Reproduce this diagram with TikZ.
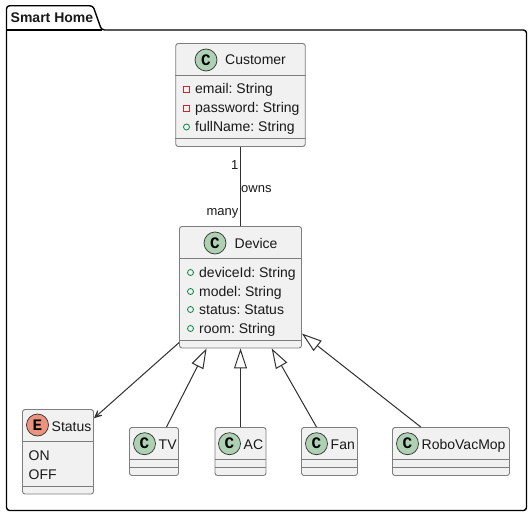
\documentclass[tikz,border=0pt]{standalone}
\usepackage{fontspec}
\setmainfont{Liberation Sans}
\newfontfamily\spotfont{Liberation Mono}
\usetikzlibrary{arrows.meta}
\definecolor{boxfill}{HTML}{F1F1F1}
\definecolor{boxline}{HTML}{7E7E7E}
\definecolor{edgeline}{HTML}{303030}
\definecolor{privred}{HTML}{C82930}
\definecolor{pubgreen}{HTML}{038048}
\definecolor{classspot}{HTML}{ADD1B2}
\definecolor{enumspot}{HTML}{EB937F}
\tikzset{
  classbox/.style = {draw = boxline, fill = boxfill, line width = .9pt, rounded corners = 2.5pt, inner sep = 0pt},
  rowline/.style = {draw = boxline, line width = .9pt},
  spot/.style = {draw = edgeline, fill = #1, circle, line width = .7pt, minimum width = 22pt, inner sep = 0pt, font = \spotfont\bfseries\fontsize{16}{16}\selectfont},
  title/.style = {anchor = base west, inner sep = 0pt, font = \fontsize{14}{16}\selectfont, text = black!90},
  edgetext/.style = {inner sep = 0pt, font = \fontsize{13}{15}\selectfont, text = black!90},
  privmark/.style = {draw = privred, rectangle, line width = .8pt, minimum width = 6pt, minimum height = 6pt, inner sep = 0pt},
  pubmark/.style = {draw = pubgreen, circle, line width = .8pt, minimum width = 6pt, inner sep = 0pt},
  assoc/.style = {draw = edgeline, line width = 1pt},
  inherit/.style = {assoc, -{Triangle[open, length = 20pt, width = 13pt, fill = white]}},
  depends/.style = {assoc, -{Stealth[length = 14pt, width = 13pt, inset = 10pt]}},
}
\begin{document}
\frenchspacing
\begin{tikzpicture}[x=1pt,y=-1pt]
\useasboundingbox (0,0) rectangle (532,516);
% package
\draw[line width = 1.4pt, rounded corners = 3pt, fill = white] (6.5,30) -- (6.5,5.8) -- (93,5.8) -- (101.5,30) -- (526.5,30) -- (526.5,510.5) -- (6.5,510.5) -- cycle;
\draw[line width = 1.4pt] (6.5,30) -- (101.5,30);
\node[title, font = \bfseries\fontsize{14}{16}\selectfont] (pkgname) at (10.5,23) {Smart Home};
% class boxes
\node[classbox, minimum width = 129.5pt, minimum height = 103pt] (customer) at (240.5,95) {};
\node[classbox, minimum width = 122pt, minimum height = 121.5pt] (device) at (240.5,287.25) {};
\node[classbox, minimum width = 71pt, minimum height = 84.5pt] (status) at (58,451.75) {};
\node[classbox, minimum width = 49pt, minimum height = 48pt] (tv) at (154,451.5) {};
\node[classbox, minimum width = 51pt, minimum height = 48pt] (ac) at (240.5,451.5) {};
\node[classbox, minimum width = 56pt, minimum height = 48pt] (fan) at (329.5,451.5) {};
\node[classbox, minimum width = 117pt, minimum height = 48pt] (robo) at (451,451.5) {};
% rows
\foreach \m/\yi in {customer/75,customer/138,device/258.5,device/340.5,status/441.5,status/486,tv/459.5,tv/467.5,ac/459.5,ac/467.5,fan/459.5,fan/467.5,robo/459.5,robo/467.5}{
  \draw[rowline] (\m.west |- 0,\yi) -- (\m.east |- 0,\yi);
}
% heads
\node[spot=classspot] (customerspot) at (206,60) {C};
\node[title] (customername) at (225,65) {Customer};
\node[spot=classspot] (devicespot) at (215,243) {C};
\node[title] (devicename) at (234.5,248) {Device};
\node[spot=enumspot] (statusspot) at (37.5,425) {E};
\node[title] (statusname) at (51.5,431) {Status};
\node[spot=classspot] (tvspot) at (144.5,443.7) {C};
\node[title] (tvname) at (158.5,449) {TV};
\node[spot=classspot] (acspot) at (229.5,443.7) {C};
\node[title] (acname) at (243.5,449) {AC};
\node[spot=classspot] (fanspot) at (316.5,443.7) {C};
\node[title] (fanname) at (330.5,449) {Fan};
\node[spot=classspot] (robospot) at (407.5,443.7) {C};
\node[title] (roboname) at (421.5,449) {RoboVacMop};
% members
\foreach \k/\yi/\m in {a/94/email: String,b/113/password: String,c/131/fullName: String}{
  \node[title] (cust\k) at (195,\yi) {\m};
}
\node[privmark] (custamark) at (186.5,89.5) {};
\node[privmark] (custbmark) at (186.5,108.5) {};
\node[pubmark] (custcmark) at (186.5,127) {};
\foreach \k/\yi/\m in {a/277/deviceId: String,b/296/model: String,c/314/status: Status,d/333/room: String}{
  \node[title] (dev\k) at (199,\yi) {\m};
  \node[pubmark] (dev\k mark) at (190.5,\yi-4.5) {};
}
\node[title] (enumon) at (28.5,460) {ON};
\node[title] (enumoff) at (28.5,479) {OFF};
% connectors
\draw[assoc] (customer.south) -- (device.north);
\node[edgetext, anchor = base east] (onelabel) at (238.5,169) {1};
\node[edgetext, anchor = base west] (ownslabel) at (241,192) {owns};
\node[edgetext, anchor = base east] (manylabel) at (238.5,215) {many};
\draw[depends] (device.222) -- (status.43.5);
\draw[inherit] (tv.63.4) -- (device.241.9);
\draw[inherit] (ac.north) -- (device.south);
\draw[inherit] (fan.118) -- (device.297.4);
\draw[inherit] (robo.141.6) -- (device.-37.5);
\end{tikzpicture}
\end{document}
